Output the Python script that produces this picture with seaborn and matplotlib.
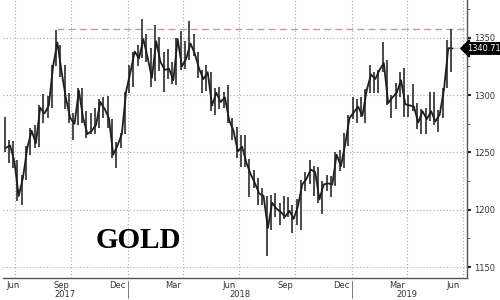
import numpy as np
import pandas as pd
import matplotlib
matplotlib.use("Agg")
import matplotlib.pyplot as plt
import matplotlib.dates as mdates
import matplotlib.transforms as mtransforms
import seaborn as sns

# Weekly gold bars (week ending Friday)
week_end = pd.date_range("2017-06-16", "2019-06-14", freq="W-FRI")
high = [1281, 1261, 1260, 1243, 1230, 1256, 1271, 1274, 1291, 1301, 1299, 1326, 1357,
        1344, 1326, 1302, 1284, 1306, 1306, 1286, 1284, 1289, 1297, 1298, 1299, 1279,
        1259, 1267, 1303,
        1326, 1338, 1344, 1366, 1353, 1341, 1361, 1351, 1338, 1340, 1329, 1350, 1356,
        1347, 1365, 1353, 1338, 1322, 1326, 1320, 1306, 1307, 1303, 1309, 1280, 1272,
        1265, 1265, 1244, 1235, 1228, 1219, 1212, 1213, 1215, 1206, 1212, 1211, 1204,
        1209, 1226, 1233, 1243, 1238, 1237, 1225, 1230, 1229, 1250, 1252, 1267, 1283,
        1298, 1297, 1298, 1305, 1326, 1320, 1322, 1346, 1331, 1300, 1311, 1320, 1324,
        1300, 1310, 1293, 1288, 1289, 1303, 1303, 1287, 1306, 1348, 1358]
low = [1250, 1241, 1236, 1208, 1204, 1226, 1248, 1254, 1255, 1276, 1280, 1289, 1325,
       1316, 1288, 1276, 1261, 1274, 1276, 1263, 1266, 1266, 1271, 1280, 1271, 1245,
       1236, 1254, 1266,
       1302, 1307, 1325, 1332, 1329, 1307, 1312, 1321, 1303, 1314, 1310, 1309, 1322,
       1323, 1331, 1334, 1315, 1302, 1304, 1286, 1283, 1288, 1289, 1276, 1261, 1245,
       1237, 1237, 1211, 1219, 1204, 1204, 1160, 1182, 1194, 1187, 1192, 1194, 1180,
       1187, 1182, 1216, 1222, 1212, 1206, 1196, 1216, 1211, 1221, 1234, 1236, 1256,
       1279, 1276, 1281, 1276, 1302, 1302, 1302, 1320, 1291, 1280, 1288, 1298, 1281,
       1281, 1286, 1270, 1266, 1266, 1277, 1274, 1268, 1280, 1306, 1320]
close = [1254, 1256, 1242, 1212, 1228, 1254, 1269, 1258, 1289, 1284, 1291, 1325, 1346,
         1320, 1297, 1280, 1275, 1304, 1280, 1266, 1269, 1274, 1294, 1288, 1280, 1248,
         1256, 1266, 1303,
         1320, 1338, 1332, 1349, 1333, 1315, 1347, 1329, 1322, 1323, 1313, 1349, 1325,
         1332, 1345, 1336, 1323, 1314, 1320, 1291, 1302, 1294, 1298, 1278, 1269, 1251,
         1255, 1241, 1231, 1223, 1214, 1212, 1184, 1206, 1201, 1198, 1194, 1199, 1192,
         1203, 1222, 1227, 1235, 1233, 1209, 1222, 1223, 1222, 1248, 1238, 1257, 1280,
         1285, 1290, 1282, 1304, 1318, 1314, 1322, 1328, 1293, 1298, 1302, 1313, 1292,
         1291, 1290, 1276, 1286, 1279, 1286, 1277, 1283, 1305, 1341, 1340.71]
last_price = 1340.71
resistance = 1357.3
resistance_start = pd.Timestamp("2017-09-08")

y_ticks = [1150, 1200, 1250, 1300, 1350]
quarter_lines = pd.to_datetime(["2017-07-01", "2017-10-01", "2018-01-01", "2018-04-01",
                                "2018-07-01", "2018-10-01", "2019-01-01", "2019-04-01",
                                "2019-07-01"])
month_label_pos = pd.to_datetime(["2017-06-27", "2017-09-15", "2017-12-15", "2018-03-15",
                                  "2018-06-15", "2018-09-15", "2018-12-15", "2019-03-15",
                                  "2019-06-15"])
month_labels = ["Jun", "Sep", "Dec", "Mar", "Jun", "Sep", "Dec", "Mar", "Jun"]
year_pos = pd.to_datetime(["2017-09-20", "2018-07-02", "2019-04-01"])
year_labels = ["2017", "2018", "2019"]
year_breaks = pd.to_datetime(["2018-01-01", "2019-01-01"])

df = pd.DataFrame({"date": week_end - pd.Timedelta(days=2), "close_date": week_end,
                   "high": high, "low": low, "close": close})
df.loc[0, "date"] = pd.Timestamp("2017-06-14")

sns.set_style("white")
plt.rcParams["font.family"] = ["DejaVu Sans"]

fig = plt.figure(figsize=(5, 3), dpi=100)
ax = fig.add_axes([0.006, 0.0733, 0.928, 0.9267])

xmin = pd.Timestamp("2017-06-11 10:00")
xmax = pd.Timestamp("2019-07-07 12:00")
ax.set_xlim(xmin, xmax)
ax.set_ylim(1140.4, 1383)

# grid
for d in quarter_lines:
    ax.axvline(d, color="#a8a8a8", lw=0.8, ls=(0, (1, 2)), zorder=0)
for y in y_ticks:
    ax.axhline(y, color="#a8a8a8", lw=0.8, ls=(0, (1, 2)), zorder=0)

# resistance dashed line
ax.hlines(resistance, resistance_start, pd.Timestamp("2019-07-05"), color="#c49a9a",
          lw=1.0, ls=(0, (5, 3)), zorder=1)

# bars
ax.vlines(df["date"], df["low"], df["high"], color="#4a4a4a", lw=1.4, zorder=3)
sns.lineplot(data=df, x="close_date", y="close", ax=ax, color="#1e1e1e", lw=1.3,
             zorder=4, legend=False)

# last price line
ax.hlines(last_price, df["close_date"].iloc[-1], xmax, color="#e2d3a6", lw=1.0, zorder=2)

# axes styling
for s in ["top", "left"]:
    ax.spines[s].set_visible(False)
for s in ["right", "bottom"]:
    ax.spines[s].set_color("#555555")
    ax.spines[s].set_linewidth(1.0)

ax.set_xlabel("")
ax.set_ylabel("")
ax.yaxis.tick_right()
ax.set_yticks(y_ticks)
ax.set_yticks([1175, 1225, 1275, 1325, 1375], minor=True)
ax.tick_params(axis="y", which="major", direction="out", length=3, width=1.5,
               color="#222222", labelsize=6, labelcolor="#333333", pad=2)
ax.tick_params(axis="y", which="minor", direction="out", length=2, width=0.6,
               color="#555555")

ax.set_xticks(month_label_pos)
ax.set_xticklabels(month_labels)
ax.xaxis.set_minor_locator(mdates.MonthLocator())
ax.tick_params(axis="x", which="major", length=0, labelsize=6, labelcolor="#333333", pad=2)
ax.tick_params(axis="x", which="minor", direction="out", length=2, width=0.6,
               color="#555555")

trans = mtransforms.blended_transform_factory(ax.transData, ax.transAxes)
for d, t in zip(year_pos, year_labels):
    ax.text(d, -0.058, t, transform=trans, ha="center", va="center", fontsize=6,
            color="#333333")
for d in year_breaks:
    ax.plot([d, d], [-0.012, -0.072], transform=trans, color="#777777", lw=0.7,
            clip_on=False)

# last price tag
ty = mtransforms.blended_transform_factory(ax.transAxes, ax.transData)
ax.text(1.036, last_price, f"{last_price:.2f}", transform=ty, ha="center", va="center",
        fontsize=5.9, color="white",
        bbox=dict(boxstyle="larrow,pad=0.15", fc="black", ec="black"))

ax.text(0.199, 0.108, "GOLD", transform=ax.transAxes, fontsize=21, fontweight="bold",
        family=["Liberation Serif", "DejaVu Serif"], color="black", va="baseline",
        ha="left")

fig.savefig("out.png", dpi=100)
